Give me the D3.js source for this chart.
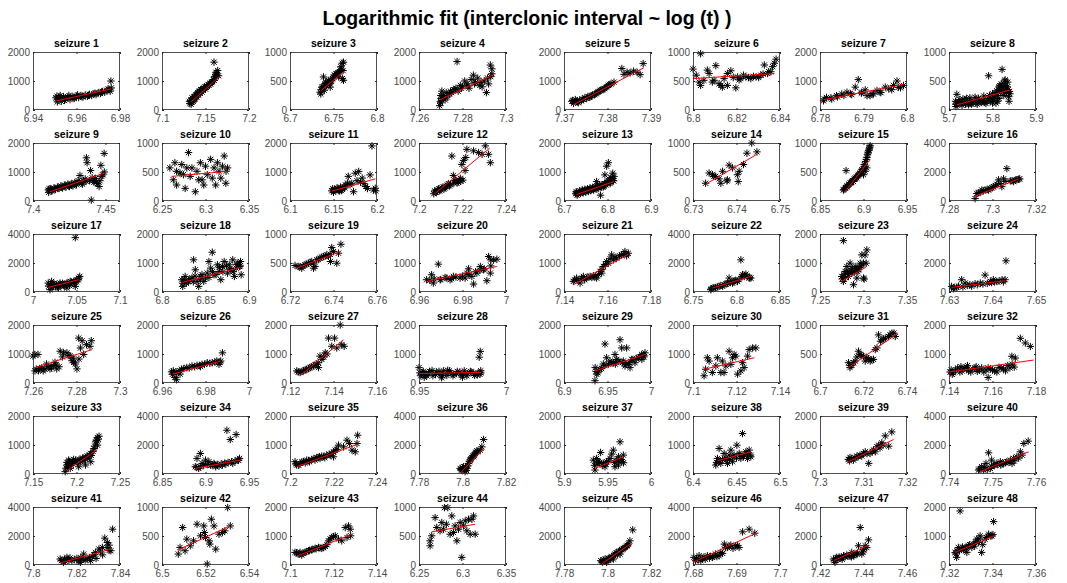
<!DOCTYPE html>
<html><head><meta charset="utf-8">
<script src="https://cdn.jsdelivr.net/npm/d3@7"></script>
<style>body{margin:0;background:#fff}svg{display:block}</style>
</head><body>
<svg id="c" width="1067" height="583"></svg>
<script>
const mainTitle = "Logarithmic fit (interclonic interval ~ log (t) )";
const panelTitles = d3.range(1, 49).map(i => "seizure " + i);
const xTicks = [
 [6.94,6.96,6.98],[7.1,7.15,7.2],[6.7,6.75,6.8],[7.26,7.28,7.3],[7.37,7.38,7.39],[6.8,6.82,6.84],[6.78,6.79,6.8],[5.7,5.8,5.9],
 [7.4,7.45],[6.25,6.3,6.35],[6.1,6.15,6.2],[7.2,7.22,7.24],[6.7,6.8,6.9],[6.73,6.74,6.75],[6.85,6.9,6.95],[7.28,7.3,7.32],
 [7,7.05,7.1],[6.8,6.85,6.9],[6.72,6.74,6.76],[6.96,6.98,7],[7.14,7.16,7.18],[6.75,6.8,6.85],[7.25,7.3,7.35],[7.63,7.64,7.65],
 [7.26,7.28,7.3],[6.96,6.98,7],[7.12,7.14,7.16],[6.95,7],[6.9,6.95,7],[7.1,7.12,7.14],[6.7,6.72,6.74],[7.14,7.16,7.18],
 [7.15,7.2,7.25],[6.85,6.9,6.95],[7.2,7.22,7.24],[7.78,7.8,7.82],[5.9,5.95,6],[6.4,6.45,6.5],[7.3,7.31,7.32],[7.74,7.75,7.76],
 [7.8,7.82,7.84],[6.5,6.52,6.54],[7.1,7.12,7.14],[6.25,6.3,6.35],[7.78,7.8,7.82],[7.68,7.69,7.7],[7.42,7.44,7.46],[7.32,7.34,7.36]
];
// x-axis limits: from the first to the last tick, except where the axis runs past the last labelled tick
const xLimitOverride = { 9: [7.4, 7.46] };
const yMax = [
 2000,2000,1000,2000,2000,1000,2000,1000,
 2000,1000,2000,2000,2000,1000,1000,4000,
 4000,2000,1000,2000,2000,4000,2000,4000,
 2000,2000,2000,2000,2000,2000,1000,2000,
 2000,4000,2000,4000,2000,2000,2000,4000,
 4000,1000,2000,1000,4000,4000,4000,2000
];
const fits = [
 [6.951,318,6.976,729],[7.1336,282,7.1656,1141],[6.7358,335,6.7615,659],[7.2697,353,7.2943,1224],
 [7.3721,176,7.3884,1459],[6.8,541,6.8374,629],[6.7808,353,6.7992,882],[5.7177,88,5.8408,347],
 [7.41164,318,7.44944,965],[6.2609,424,6.3254,512],[6.1481,341,6.1981,765],[7.2074,259,7.2325,1824],
 [6.7291,224,6.8149,671],[6.7329,288,6.7447,806],[6.8781,147,6.9077,718],[7.2912,282,7.312,1529],
 [7.0175,320,7.0525,846],[6.8238,331,6.8902,846],[6.7231,411,6.7431,697],[6.9635,366,6.9958,880],
 [7.1443,251,7.1696,1303],[6.7723,274,6.8165,1074],[7.275,366,7.3038,880],[7.6306,320,7.6429,777],
 [7.26,508,7.2872,1153],[6.9648,305,6.987,757],[7.1246,249,7.1446,1492],[6.95,328,6.9858,362],
 [6.9356,418,6.9931,983],[7.1051,475,7.1282,870],[6.7131,266,6.7354,847],[7.1405,384,7.1789,791],
 [7.1889,114,7.2239,846],[6.8883,389,6.9402,960],[7.2031,251,7.2311,1029],[7.7992,91,7.8097,1760],
 [5.9356,194,5.9682,594],[6.4281,457,6.4665,766],[7.3065,423,7.3169,1189],[7.7472,160,7.7583,1531],
 [7.8125,137,7.8358,1097],[6.5075,263,6.5314,674],[7.1038,320,7.1285,1063],[6.2646,571,6.3146,703],
 [7.7973,69,7.8111,1509],[7.68,183,7.6945,2194],[7.4262,297,7.4423,1371],[7.3228,434,7.3405,1006]
];
const s1=[[6.951,480],[6.9515,350],[6.952,420],[6.953,300],[6.954,460],[6.955,380],[6.956,440],[6.957,360],[6.958,470],[6.959,400],[6.960,480],[6.961,430],[6.962,500],[6.963,450],[6.964,520],[6.965,470],[6.966,540],[6.967,500],[6.968,560],[6.969,530],[6.970,600],[6.971,570],[6.972,640],[6.973,610],[6.974,680],[6.975,700],[6.976,760],[6.9758,1000],[6.9505,420],[6.9512,280],[6.9525,500],[6.9535,380],[6.9545,330],[6.9565,500],[6.9585,420],[6.9605,520],[6.9625,460],[6.9655,510],[6.9685,580],[6.9715,620],[6.9745,720],[6.9755,650]];
const s2=[[7.132,220],[7.133,330],[7.134,260],[7.135,400],[7.136,300],[7.137,460],[7.138,380],[7.139,520],[7.140,440],[7.141,600],[7.142,520],[7.143,660],[7.144,580],[7.145,700],[7.146,620],[7.148,760],[7.150,720],[7.152,820],[7.154,860],[7.156,900],[7.158,980],[7.160,1020],[7.161,1100],[7.162,1300],[7.163,1200],[7.164,1360],[7.165,1180],[7.1598,1650],[7.1315,300],[7.1335,200],[7.1345,420],[7.1365,350],[7.1385,480],[7.1405,560],[7.1425,620],[7.1445,700],[7.147,700],[7.149,800],[7.151,780],[7.153,880],[7.155,920],[7.157,950],[7.159,1050],[7.1605,1150],[7.1625,1250]];
const s3=[[6.7346,306],[6.7354,276],[6.7365,394],[6.7375,365],[6.7385,570],[6.7404,453],[6.742,424],[6.744,512],[6.746,453],[6.7462,394],[6.748,512],[6.750,570],[6.752,600],[6.754,629],[6.756,570],[6.758,688],[6.7585,747],[6.760,806],[6.7615,824],[6.7602,541],[6.7615,512],[6.7395,340],[6.7435,470],[6.736,350],[6.738,400],[6.740,420],[6.741,480],[6.743,450],[6.745,480],[6.747,500],[6.749,540],[6.751,600],[6.753,620],[6.755,640],[6.757,660],[6.759,700],[6.761,680]];
const s4=[[7.2695,150],[7.2698,300],[7.270,500],[7.2705,650],[7.271,400],[7.272,350],[7.273,450],[7.274,550],[7.275,600],[7.276,700],[7.277,750],[7.278,650],[7.279,850],[7.280,800],[7.281,1000],[7.282,900],[7.283,750],[7.284,1050],[7.285,1200],[7.286,950],[7.287,1100],[7.288,850],[7.289,800],[7.290,1000],[7.291,600],[7.292,900],[7.293,1150],[7.2928,1550],[7.2935,1420],[7.2775,1670],[7.2700,250],[7.2702,400],[7.2712,500],[7.2725,600],[7.2745,650],[7.2765,700],[7.2795,750],[7.2825,850],[7.2855,900],[7.2885,950],[7.2915,1100],[7.2935,1250]];
const s5=[[7.3718,300],[7.3722,230],[7.3726,360],[7.3731,280],[7.3736,340],[7.3742,380],[7.3748,420],[7.3755,470],[7.376,450],[7.3766,520],[7.3772,560],[7.3778,620],[7.3784,680],[7.379,700],[7.3796,780],[7.3802,850],[7.3808,900],[7.3815,960],[7.3833,1430],[7.3838,1230],[7.3845,1300],[7.3852,1280],[7.386,1340],[7.3868,1300],[7.3875,1220],[7.3882,1600],[7.3720,330],[7.3728,300],[7.3733,250],[7.3740,320],[7.3745,360],[7.3752,400],[7.3758,440],[7.3763,490],[7.3770,530],[7.3775,580],[7.3781,640],[7.3787,700],[7.3793,740],[7.3799,800],[7.3805,880]];
const s6=[[6.800,706],[6.8035,970],[6.8015,600],[6.8028,482],[6.8035,424],[6.805,512],[6.8066,688],[6.8074,630],[6.8089,482],[6.8105,765],[6.812,453],[6.8128,424],[6.8135,394],[6.8143,541],[6.8158,630],[6.8174,676],[6.8197,382],[6.8205,570],[6.822,541],[6.8243,570],[6.8266,541],[6.829,570],[6.8312,600],[6.8328,776],[6.8343,630],[6.8358,659],[6.8374,806],[6.8382,876],[6.8366,747],[6.8097,512],[6.8158,424],[6.8185,560],[6.8212,520],[6.8232,600],[6.8255,560],[6.8278,580],[6.8302,560],[6.8322,620],[6.8348,660]];
const s7=[[6.7808,318],[6.7815,435],[6.7827,376],[6.7838,494],[6.785,553],[6.7862,612],[6.7873,530],[6.7881,788],[6.7888,1047],[6.7896,612],[6.7904,694],[6.7908,494],[6.7915,494],[6.7923,553],[6.7931,670],[6.7938,612],[6.795,788],[6.7958,729],[6.7969,847],[6.7977,1000],[6.7992,847],[6.7985,765],[6.781,380],[6.7825,420],[6.784,450],[6.7855,500],[6.787,560],[6.7895,580],[6.792,560],[6.794,600],[6.7965,700],[6.798,780]];
const s8=[[5.715,150],[5.716,60],[5.718,270],[5.72,100],[5.725,180],[5.73,80],[5.735,130],[5.74,200],[5.745,90],[5.75,160],[5.755,120],[5.76,220],[5.765,100],[5.77,170],[5.775,130],[5.78,240],[5.785,110],[5.79,200],[5.791,590],[5.795,150],[5.80,280],[5.805,220],[5.81,330],[5.812,150],[5.815,400],[5.818,300],[5.82,450],[5.822,700],[5.825,380],[5.828,500],[5.83,420],[5.832,300],[5.835,480],[5.837,230],[5.84,280],[5.838,150],[5.826,250],[5.815,200],[5.808,120],[5.80,120],[5.7155,100],[5.722,150],[5.728,120],[5.732,190],[5.738,100],[5.742,140],[5.748,210],[5.752,100],[5.758,150],[5.762,120],[5.768,200],[5.772,140],[5.778,170],[5.782,130],[5.788,160],[5.793,250],[5.797,200],[5.802,170],[5.806,300],[5.811,250],[5.814,350],[5.817,420],[5.821,330],[5.824,420],[5.827,300],[5.829,520],[5.831,360],[5.834,400],[5.836,350],[5.839,320]];
const s9=[[7.41056,380],[7.4108,300],[7.412,420],[7.4132,350],[7.4144,450],[7.4156,400],[7.4168,480],[7.418,430],[7.4192,520],[7.4204,450],[7.4216,550],[7.4228,480],[7.424,580],[7.4252,500],[7.4264,600],[7.4276,520],[7.4288,640],[7.43,560],[7.4312,700],[7.4324,880],[7.4336,620],[7.4348,700],[7.436,760],[7.43684,1490],[7.43732,1320],[7.43972,1050],[7.4402,30],[7.4408,800],[7.442,650],[7.4432,780],[7.4444,600],[7.4456,500],[7.4468,1230],[7.448,900],[7.44908,1640],[7.4492,1000],[7.4474,850],[7.41116,420],[7.4126,350],[7.415,420],[7.4174,450],[7.4198,480],[7.4222,520],[7.4246,540],[7.427,560],[7.4294,600],[7.4318,640],[7.4342,580],[7.4366,680],[7.439,700],[7.4414,700],[7.4438,650],[7.4462,700]];
const s10=[[6.259,571],[6.263,365],[6.2648,659],[6.2668,276],[6.2707,482],[6.2727,629],[6.2746,453],[6.2766,218],[6.2805,835],[6.2824,424],[6.2844,571],[6.2883,159],[6.2902,512],[6.2922,365],[6.2941,659],[6.298,276],[6.3,600],[6.302,453],[6.3059,718],[6.3078,394],[6.3098,571],[6.3117,276],[6.3137,659],[6.3156,512],[6.3176,394],[6.3195,600],[6.3215,776],[6.3234,306],[6.3254,571],[6.3236,512],[6.2668,512],[6.2785,571],[6.2961,365]];
const s11=[[6.148,350],[6.149,420],[6.150,300],[6.152,380],[6.154,450],[6.156,360],[6.158,480],[6.160,400],[6.162,500],[6.164,550],[6.166,620],[6.167,850],[6.169,560],[6.171,610],[6.173,320],[6.175,960],[6.177,700],[6.179,1020],[6.181,650],[6.183,790],[6.185,600],[6.187,500],[6.189,430],[6.192,900],[6.1942,1900],[6.196,380],[6.198,440],[6.1985,350],[6.151,400],[6.155,420],[6.159,360],[6.163,450],[6.157,350]];
const s12=[[7.2068,250],[7.2072,350],[7.208,300],[7.209,420],[7.210,380],[7.211,480],[7.212,450],[7.213,550],[7.214,520],[7.2151,1550],[7.2158,880],[7.216,620],[7.217,700],[7.218,650],[7.219,780],[7.2197,1260],[7.2205,1400],[7.2202,720],[7.2212,1050],[7.222,1780],[7.2251,1730],[7.2274,1670],[7.229,1610],[7.2305,1900],[7.232,1610],[7.2328,1320],[7.2215,1500],[7.2075,300],[7.2085,380],[7.2095,350],[7.2105,450],[7.2115,420],[7.2125,500],[7.2135,600],[7.2145,560],[7.2165,700],[7.2175,620],[7.2185,720],[7.2192,680]];
const s13=[[6.727,250],[6.728,320],[6.730,200],[6.733,280],[6.736,350],[6.739,300],[6.742,380],[6.745,330],[6.748,400],[6.751,360],[6.754,420],[6.757,380],[6.760,450],[6.763,400],[6.766,470],[6.769,430],[6.772,500],[6.775,670],[6.778,450],[6.781,520],[6.784,200],[6.787,560],[6.790,480],[6.793,600],[6.794,900],[6.796,550],[6.798,1200],[6.802,1320],[6.800,650],[6.804,750],[6.806,600],[6.808,800],[6.810,730],[6.812,960],[6.813,700],[6.815,850],[6.729,280],[6.732,240],[6.735,300],[6.738,260],[6.741,330],[6.744,280],[6.747,350],[6.750,310],[6.753,380],[6.756,330],[6.759,400],[6.762,360],[6.765,420],[6.768,380],[6.771,440],[6.774,420],[6.777,500],[6.780,460],[6.783,520],[6.786,480],[6.789,540],[6.792,520],[6.795,600],[6.799,620],[6.803,700],[6.807,650],[6.811,780],[6.814,700]];
const s14=[[6.7329,306],[6.7337,482],[6.7345,453],[6.7352,424],[6.736,382],[6.7364,306],[6.7368,512],[6.7378,347],[6.7383,618],[6.7391,571],[6.7402,453],[6.7404,335],[6.7406,512],[6.7416,629],[6.7424,824],[6.7435,1000],[6.7447,847],[6.7379,365],[6.7348,424]];
const s15=[[6.88,524],[6.8769,188],[6.8788,218],[6.8827,276],[6.8865,335],[6.8904,394],[6.8942,453],[6.8981,541],[6.9008,629],[6.9031,718],[6.9046,806],[6.9058,865],[6.9077,953],[6.9069,912],[6.9038,571],[6.9019,512],[6.900,453],[6.8808,240],[6.8846,310],[6.8885,335],[6.8923,394],[6.8962,480],[6.8775,200],[6.8795,230],[6.881,260],[6.8835,290],[6.8855,320],[6.8875,350],[6.8895,380],[6.8915,410],[6.8935,440],[6.8955,470],[6.8975,510],[6.8995,560],[6.9015,600],[6.9025,680],[6.904,750],[6.9052,830],[6.9063,880],[6.9072,930]];
const s16=[[7.292,165],[7.2928,518],[7.2943,588],[7.2966,753],[7.2989,871],[7.3005,988],[7.302,1153],[7.3028,1459],[7.3051,1529],[7.3066,2235],[7.3082,1388],[7.3097,1341],[7.3112,1459],[7.3125,1529],[7.3043,988],[7.2982,753],[7.2951,753],[7.2935,560],[7.2958,700],[7.2975,800],[7.2998,900],[7.3013,1050],[7.3035,1200],[7.3058,1350],[7.309,1400],[7.3105,1450],[7.312,1500]];
const s17=[[7.0175,617],[7.0195,160],[7.0233,389],[7.0272,503],[7.0311,617],[7.035,503],[7.0389,617],[7.0428,731],[7.0467,731],[7.0486,389],[7.0506,846],[7.0537,1074],[7.0525,960],[7.0486,3749],[7.0214,731],[7.0292,274],[7.0389,274],[7.018,400],[7.020,500],[7.022,300],[7.024,600],[7.026,400],[7.028,350],[7.030,500],[7.032,420],[7.034,600],[7.036,400],[7.038,500],[7.040,600],[7.042,450],[7.044,700],[7.046,600],[7.048,700],[7.050,700],[7.052,850]];
const s18=[[6.8227,423],[6.8238,194],[6.8266,537],[6.8305,366],[6.8344,480],[6.8363,1109],[6.8383,766],[6.8402,366],[6.8441,537],[6.848,366],[6.852,651],[6.8539,1051],[6.8559,823],[6.8578,1371],[6.8598,594],[6.8637,937],[6.8656,709],[6.8676,423],[6.8695,880],[6.8715,1051],[6.8754,651],[6.8773,937],[6.8793,766],[6.8813,1109],[6.8832,537],[6.8852,823],[6.8871,994],[6.8891,880],[6.891,594],[6.8902,1051],[6.8422,194],[6.85,480],[6.824,300],[6.826,420],[6.828,300],[6.832,450],[6.836,350],[6.838,550],[6.844,420],[6.846,600],[6.854,500],[6.858,700],[6.862,600],[6.866,850],[6.870,700],[6.874,900],[6.878,800],[6.882,700],[6.886,950],[6.890,900]];
const s19=[[6.7223,457],[6.7238,440],[6.7254,411],[6.7269,469],[6.7285,497],[6.73,526],[6.7315,440],[6.7323,554],[6.7338,583],[6.7354,611],[6.7369,640],[6.7385,651],[6.7392,766],[6.74,697],[6.7386,526],[6.7415,497],[6.7423,669],[6.7434,823],[6.7308,411],[6.7245,430],[6.726,450],[6.7277,480],[6.7293,510],[6.7307,500],[6.733,560],[6.7346,600],[6.7362,620],[6.7377,620]];
const s20=[[6.9635,423],[6.9658,594],[6.9666,309],[6.9689,960],[6.9697,423],[6.9728,480],[6.9758,537],[6.9789,480],[6.982,651],[6.9828,800],[6.9843,537],[6.9851,274],[6.9866,651],[6.9882,880],[6.9897,766],[6.9912,389],[6.992,1223],[6.9928,651],[6.9943,1109],[6.9958,1131],[6.9930,1109],[6.9743,423],[6.9812,480],[6.965,400],[6.967,450],[6.970,430],[6.972,500],[6.975,460],[6.977,520],[6.980,550],[6.983,600],[6.986,700],[6.988,750],[6.990,800],[6.993,900]];
const s21=[[7.1443,366],[7.1458,480],[7.1474,309],[7.1489,537],[7.1504,480],[7.152,537],[7.1535,560],[7.155,480],[7.1566,709],[7.1581,880],[7.1596,1051],[7.1619,1280],[7.1627,1109],[7.1642,1166],[7.1665,1280],[7.168,1394],[7.1696,1337],[7.1573,651],[7.1604,994],[7.1448,420],[7.1465,400],[7.148,460],[7.1495,420],[7.151,520],[7.1528,500],[7.1542,520],[7.1558,600],[7.1574,780],[7.159,950],[7.1612,1150],[7.1635,1200],[7.1655,1250],[7.1672,1300],[7.1688,1250]];
const s22=[[6.7704,160],[6.7742,274],[6.78,389],[6.7858,503],[6.7915,960],[6.7954,617],[6.8012,731],[6.805,2217],[6.8069,1189],[6.8108,1234],[6.8146,960],[6.8165,960],[6.8088,1074],[6.7896,617],[6.7973,777],[6.771,220],[6.773,300],[6.776,300],[6.778,350],[6.782,450],[6.784,400],[6.788,550],[6.790,600],[6.793,650],[6.797,700],[6.799,800],[6.803,850],[6.806,1050],[6.809,1150],[6.812,1100],[6.815,1000]];
const s23=[[7.2769,1771],[7.275,537],[7.2769,366],[7.2788,709],[7.2808,880],[7.2827,537],[7.2846,994],[7.2865,651],[7.2885,251],[7.2904,880],[7.2923,480],[7.2942,766],[7.2962,994],[7.2981,1280],[7.300,480],[7.3008,446],[7.3019,1280],[7.3038,1451],[7.3031,994],[7.2810,709],[7.2867,823],[7.2755,450],[7.2775,600],[7.2795,500],[7.2815,650],[7.2835,700],[7.2855,750],[7.2875,700],[7.2895,700],[7.2915,800],[7.2935,700],[7.2955,850],[7.2975,900],[7.3,1000]];
const s24=[[7.6306,389],[7.6318,320],[7.6329,846],[7.6337,617],[7.6348,503],[7.636,571],[7.6372,617],[7.6383,1166],[7.6395,731],[7.6402,846],[7.641,731],[7.6422,846],[7.6429,846],[7.6431,2149],[7.631,217],[7.6312,300],[7.6322,400],[7.6332,350],[7.6342,450],[7.6352,400],[7.6365,500],[7.6378,550],[7.6388,600],[7.6398,650],[7.6405,700],[7.6415,750],[7.6425,700]];
const s25=[[7.26,927],[7.2608,983],[7.2623,983],[7.2609,418],[7.2631,497],[7.2647,418],[7.2662,655],[7.2678,486],[7.2693,599],[7.2701,712],[7.2709,486],[7.2725,1096],[7.274,1040],[7.2756,1040],[7.2771,927],[7.2787,712],[7.2802,486],[7.281,1548],[7.2826,1458],[7.2818,1209],[7.2833,983],[7.2846,1322],[7.2862,1266],[7.2868,1458],[7.2795,655],[7.2779,768],[7.2811,825],[7.2615,480],[7.2625,420],[7.2640,520],[7.2655,480],[7.2670,560],[7.2685,520],[7.2705,620],[7.272,560],[7.2735,900],[7.2765,950],[7.2785,860]];
const s26=[[6.9644,384],[6.9652,418],[6.9659,192],[6.9667,113],[6.9675,362],[6.969,475],[6.9714,531],[6.9738,588],[6.9761,610],[6.9784,644],[6.9808,700],[6.9831,700],[6.9852,757],[6.987,757],[6.9878,1040],[6.9862,644],[6.9683,305],[6.9777,565],[6.9648,300],[6.9665,380],[6.9682,420],[6.970,500],[6.9725,520],[6.975,560],[6.9772,600],[6.9795,640],[6.982,680],[6.9843,720],[6.9866,720]];
const s27=[[7.1231,418],[7.1246,362],[7.1262,418],[7.1277,475],[7.1292,531],[7.1308,588],[7.1323,644],[7.1338,927],[7.1346,813],[7.1362,1040],[7.1377,1548],[7.1392,1266],[7.1405,1548],[7.1431,2000],[7.1438,1322],[7.1449,1266],[7.1415,1209],[7.1331,531],[7.1238,380],[7.1255,400],[7.127,450],[7.1285,500],[7.13,560],[7.1315,620],[7.133,700],[7.1355,900],[7.137,1000]];
const s28=[[6.950,530],[6.951,250],[6.952,350],[6.954,300],[6.956,400],[6.958,250],[6.960,380],[6.962,300],[6.964,420],[6.966,260],[6.968,360],[6.970,300],[6.972,400],[6.974,280],[6.976,420],[6.978,320],[6.980,380],[6.982,260],[6.984,350],[6.9846,890],[6.9852,1090],[6.985,300],[6.9855,420],[6.953,200],[6.963,180],[6.975,200],[6.9665,440],[6.9575,430],[6.9505,350],[6.9515,300],[6.9525,400],[6.9545,250],[6.9555,350],[6.9595,300],[6.9615,400],[6.9635,250],[6.9655,330],[6.9675,420],[6.9695,250],[6.9715,330],[6.9735,380],[6.9755,300],[6.9775,250],[6.9795,400],[6.9815,330],[6.9835,280],[6.9855,350]];
const s29=[[6.9356,79],[6.9358,531],[6.9375,305],[6.9414,475],[6.9452,655],[6.9471,1345],[6.949,870],[6.9529,757],[6.9567,700],[6.9605,813],[6.9644,1492],[6.9663,1209],[6.9682,757],[6.9701,588],[6.972,1209],[6.974,644],[6.9759,531],[6.9778,813],[6.9816,700],[6.9854,870],[6.9893,983],[6.9931,1040],[6.9895,813],[6.9586,983],[6.937,400],[6.939,350],[6.943,500],[6.947,600],[6.951,650],[6.955,700],[6.959,650],[6.963,750],[6.967,700],[6.971,650],[6.975,700],[6.979,800],[6.983,850],[6.987,900],[6.991,950],[6.992,900]];
const s30=[[7.1051,249],[7.1058,475],[7.1066,870],[7.1074,757],[7.1089,362],[7.1105,588],[7.1112,870],[7.1128,362],[7.1135,757],[7.1151,588],[7.1166,1096],[7.1174,644],[7.1182,870],[7.1197,927],[7.1205,305],[7.122,418],[7.1228,700],[7.1235,531],[7.1251,927],[7.1258,1153],[7.1274,1209],[7.1289,1209],[7.1143,362],[7.1189,983]];
const s31=[[6.7131,350],[6.7146,305],[6.7162,379],[6.7177,548],[6.7185,492],[6.72,463],[6.7208,379],[6.7215,435],[6.7231,379],[6.7246,407],[6.7254,576],[6.7269,830],[6.7285,746],[6.73,774],[6.7315,802],[6.7331,859],[6.7346,802],[6.7262,605],[6.7138,266],[6.7138,300],[6.7155,350],[6.717,450],[6.7192,470],[6.7222,420],[6.7238,400],[6.7278,720],[6.7292,760],[6.7322,830],[6.734,860]];
const s32=[[7.1405,380],[7.1415,300],[7.143,450],[7.145,380],[7.147,520],[7.149,420],[7.151,480],[7.153,400],[7.155,520],[7.157,450],[7.158,190],[7.159,480],[7.161,420],[7.163,540],[7.165,480],[7.167,600],[7.1689,920],[7.170,550],[7.1705,860],[7.1728,1540],[7.1751,1380],[7.1774,1260],[7.1455,560],[7.1525,560],[7.1485,600],[7.1410,450],[7.142,350],[7.144,520],[7.146,420],[7.148,480],[7.150,380],[7.152,520],[7.154,450],[7.156,380],[7.158,520],[7.160,450],[7.162,380],[7.164,520],[7.166,420],[7.168,520],[7.169,650]];
const s33=[[7.187,80],[7.1889,309],[7.1909,480],[7.1928,194],[7.1947,366],[7.1967,503],[7.2006,423],[7.2045,480],[7.2084,537],[7.2123,617],[7.2162,709],[7.22,880],[7.222,1109],[7.2239,1257],[7.2259,1303],[7.2241,994],[7.2025,251],[7.2103,309],[7.2164,423],[7.188,200],[7.189,400],[7.190,250],[7.191,350],[7.192,430],[7.194,300],[7.195,440],[7.197,400],[7.199,480],[7.201,380],[7.203,500],[7.205,420],[7.207,550],[7.209,480],[7.211,580],[7.213,560],[7.215,650],[7.217,640],[7.219,780],[7.221,960],[7.223,1150],[7.225,1200]];
const s34=[[6.8883,503],[6.8902,1074],[6.8941,1417],[6.8961,731],[6.9,960],[6.9039,846],[6.9078,617],[6.9117,503],[6.9156,549],[6.9195,617],[6.9234,686],[6.9246,3017],[6.9285,2377],[6.9352,2720],[6.9371,960],[6.9391,1074],[6.9313,731],[6.8922,389],[6.9098,731],[6.890,450],[6.894,500],[6.898,600],[6.902,650],[6.906,600],[6.910,650],[6.914,650],[6.918,700],[6.922,750],[6.926,800],[6.930,850],[6.934,900],[6.938,950]];
const s35=[[7.2023,423],[7.2031,309],[7.2046,366],[7.2062,423],[7.2077,480],[7.21,503],[7.2123,571],[7.2146,617],[7.2169,651],[7.2192,709],[7.2208,823],[7.2223,994],[7.2246,937],[7.2262,1166],[7.2274,1051],[7.2285,823],[7.2300,766],[7.2311,1337],[7.2308,1051],[7.2138,537],[7.22,594],[7.2027,350],[7.204,300],[7.2055,420],[7.207,380],[7.2085,460],[7.209,420],[7.211,530],[7.2115,480],[7.213,560],[7.2135,600],[7.2155,600],[7.216,560],[7.218,680],[7.2185,640],[7.220,760],[7.2215,850]];
const s36=[[7.7989,389],[7.7997,274],[7.8005,503],[7.8012,160],[7.802,389],[7.8028,731],[7.8035,960],[7.8043,1143],[7.8058,1417],[7.8069,1531],[7.8082,1646],[7.8089,1874],[7.8097,2377],[7.8051,1189],[7.8066,1600],[7.7993,300],[7.8000,420],[7.8008,300],[7.8015,450],[7.8018,250],[7.8024,550],[7.8032,850],[7.8039,1050],[7.8047,1250],[7.8054,1300],[7.8062,1500]];
const s37=[[5.9337,480],[5.9356,137],[5.9375,537],[5.9395,423],[5.9421,743],[5.9452,366],[5.949,423],[5.9529,537],[5.9548,686],[5.9567,823],[5.9586,251],[5.9605,480],[5.9625,309],[5.9644,1109],[5.9663,423],[5.9682,651],[5.9684,389],[5.9471,251],[5.9627,594],[5.935,300],[5.938,350],[5.941,400],[5.944,300],[5.948,350],[5.951,450],[5.958,400],[5.962,450],[5.966,500]];
const s38=[[6.4262,309],[6.4281,537],[6.43,880],[6.4319,366],[6.4358,709],[6.4377,480],[6.4415,651],[6.4435,823],[6.4454,423],[6.4504,994],[6.4531,709],[6.4569,1394],[6.4588,651],[6.4608,766],[6.4627,537],[6.4646,823],[6.4665,594],[6.455,537],[6.4396,366],[6.4473,651],[6.427,400],[6.430,450],[6.434,500],[6.438,550],[6.442,500],[6.446,600],[6.450,550],[6.454,650],[6.458,600],[6.462,700],[6.466,650]];
const s39=[[7.3065,503],[7.3069,571],[7.3077,480],[7.3085,617],[7.3092,651],[7.31,709],[7.3104,766],[7.3112,366],[7.3115,709],[7.3123,823],[7.3131,937],[7.3135,994],[7.3142,1074],[7.315,1314],[7.3158,960],[7.3165,1451],[7.3127,766],[7.3073,537],[7.3068,450],[7.308,550],[7.3088,600],[7.3096,620],[7.3108,700],[7.312,780],[7.3138,900],[7.3145,1000]];
const s40=[[7.7468,274],[7.7475,503],[7.7479,274],[7.7485,731],[7.7491,1463],[7.7495,389],[7.7502,617],[7.751,731],[7.7518,846],[7.7525,731],[7.7533,846],[7.7541,960],[7.7548,1074],[7.7556,1189],[7.7564,1531],[7.7572,2103],[7.7582,2263],[7.7498,960],[7.7519,617],[7.7545,731],[7.747,350],[7.7482,450],[7.7488,300],[7.7498,500],[7.7505,600],[7.7512,650],[7.7522,700],[7.753,780],[7.7538,800],[7.755,900],[7.756,1100],[7.7568,1300]];
const s41=[[7.8125,411],[7.814,183],[7.8156,526],[7.8179,297],[7.8202,457],[7.8226,411],[7.8233,754],[7.8249,411],[7.8272,594],[7.8288,869],[7.8303,1097],[7.8319,1211],[7.833,1851],[7.8342,1554],[7.835,1371],[7.8366,2469],[7.8358,983],[7.8218,183],[7.8265,297],[7.813,300],[7.8145,400],[7.815,250],[7.8165,350],[7.817,480],[7.819,380],[7.821,300],[7.822,500],[7.824,350],[7.826,500],[7.828,700],[7.829,450],[7.831,900],[7.832,700],[7.834,1200],[7.835,1000]];
const s42=[[6.5075,189],[6.5083,303],[6.5095,646],[6.5106,246],[6.5114,446],[6.513,331],[6.5145,417],[6.5161,703],[6.5177,503],[6.5192,674],[6.5195,560],[6.5208,17],[6.5216,417],[6.522,360],[6.5227,789],[6.5239,674],[6.5247,274],[6.5262,531],[6.5278,560],[6.5289,589],[6.5302,989],[6.5314,674],[6.52,474]];
const s43=[[7.1023,434],[7.1038,377],[7.1054,343],[7.1069,434],[7.1085,491],[7.11,526],[7.1115,571],[7.1131,606],[7.1146,571],[7.1162,640],[7.1177,834],[7.1192,949],[7.1208,1006],[7.1223,891],[7.1238,834],[7.1254,1291],[7.1269,1349],[7.1277,1234],[7.1262,949],[7.1279,1006],[7.1046,434],[7.103,420],[7.1045,380],[7.106,400],[7.1075,460],[7.109,500],[7.1105,540],[7.112,560],[7.1138,590],[7.1153,600],[7.117,700],[7.1185,900],[7.12,980]];
const s44=[[6.2627,417],[6.2646,503],[6.2685,817],[6.2704,646],[6.2742,589],[6.2762,731],[6.2792,989],[6.2831,989],[6.2815,703],[6.2858,531],[6.2877,846],[6.2896,560],[6.2915,674],[6.2935,417],[6.2954,617],[6.2973,731],[6.2992,131],[6.3012,674],[6.3031,760],[6.305,589],[6.3069,789],[6.3088,531],[6.3108,789],[6.3127,846],[6.3146,531],[6.2628,331],[6.2781,617]];
const s45=[[7.7969,297],[7.7978,183],[7.7989,411],[7.8004,457],[7.802,594],[7.8034,754],[7.805,914],[7.8065,1051],[7.8081,1211],[7.8096,1440],[7.8103,1669],[7.8116,2423],[7.7996,183],[7.8027,411],[7.8058,754],[7.7975,250],[7.7983,350],[7.7995,300],[7.801,480],[7.8015,380],[7.8028,650],[7.804,850],[7.8045,700],[7.8055,960],[7.807,1100],[7.8075,1150],[7.8088,1300],[7.8092,1350]];
const s46=[[7.6802,526],[7.6806,297],[7.6814,640],[7.6822,457],[7.6833,640],[7.6845,526],[7.6852,754],[7.6864,869],[7.6872,1440],[7.6879,1211],[7.6887,1371],[7.6898,1326],[7.6906,1211],[7.6914,2286],[7.6929,2469],[7.6942,2194],[7.6818,297],[7.686,640],[7.6808,450],[7.6812,380],[7.6825,550],[7.6828,400],[7.6838,480],[7.684,600],[7.6848,620],[7.6855,580],[7.6868,800],[7.6875,1200],[7.6883,1300],[7.6892,1150],[7.6902,1350]];
const s47=[[7.4262,411],[7.4277,526],[7.4292,457],[7.4308,640],[7.4323,686],[7.4338,594],[7.4354,640],[7.4369,754],[7.4377,1326],[7.4385,2583],[7.44,1051],[7.4408,1326],[7.4423,1737],[7.4392,754],[7.4269,183],[7.4346,869],[7.4266,300],[7.4272,450],[7.4282,380],[7.4288,550],[7.4298,520],[7.4302,400],[7.4315,560],[7.4328,620],[7.4345,560],[7.436,700],[7.4372,820],[7.4398,900],[7.4415,1200]];
const s48=[[7.3228,434],[7.3235,263],[7.3243,606],[7.3251,1863],[7.3258,549],[7.3274,606],[7.3289,663],[7.3305,606],[7.3312,720],[7.3328,891],[7.3335,777],[7.3343,1006],[7.335,434],[7.3366,891],[7.3382,1063],[7.3397,1006],[7.3405,1497],[7.3237,491],[7.3282,434],[7.3232,380],[7.3248,500],[7.3262,620],[7.3268,520],[7.328,560],[7.3295,700],[7.3318,650],[7.3322,800],[7.3338,900],[7.3355,700],[7.3372,950],[7.339,1000],[7.3402,1050]];
const scatter=[s1,s2,s3,s4,s5,s6,s7,s8,s9,s10,s11,s12,s13,s14,s15,s16,s17,s18,s19,s20,s21,s22,s23,s24,s25,s26,s27,s28,s29,s30,s31,s32,s33,s34,s35,s36,s37,s38,s39,s40,s41,s42,s43,s44,s45,s46,s47,s48];

const svg = d3.select("#c");
const FONT = "'Liberation Sans', Arial, Helvetica, sans-serif";
const colLeft = [33, 162, 290, 419, 564, 693, 820, 949];
const pw = 87, top0 = 52, rowStep = 91, ph = 58;
const axisColor = "#262626", labelColor = "#4a4a4a";
const starPath = r => { const a = r * 0.7071; return `M${-r},0H${r}M0,${-r}V${r}M${-a},${-a}L${a},${a}M${-a},${a}L${a},${-a}`; };
const fmt = d3.format("~g");

svg.append("text").attr("x", 527).attr("y", 25).attr("text-anchor", "middle")
  .attr("font-family", FONT).attr("font-weight", "bold").attr("font-size", 19.5).attr("fill", "#000").text(mainTitle);

scatter.forEach((pts, i) => {
  const r = Math.floor(i / 8), c = i % 8;
  const g = svg.append("g").attr("transform", `translate(${colLeft[c]},${top0 + r * rowStep})`);
  const xt = xTicks[i];
  const xDom = xLimitOverride[i + 1] || [xt[0], xt[xt.length - 1]];
  const x = d3.scaleLinear().domain(xDom).range([0, pw]);
  const y = d3.scaleLinear().domain([0, yMax[i]]).range([ph, 0]);
  const yt = [0, yMax[i] / 2, yMax[i]];

  g.append("g").selectAll("path").data(pts).join("path")
    .attr("d", starPath(3.7))
    .attr("transform", d => `translate(${x(d[0])},${y(d[1])})`)
    .attr("stroke", "#000").attr("stroke-width", 1).attr("fill", "none");

  const f = fits[i];
  g.append("line").attr("x1", x(f[0])).attr("y1", y(f[1])).attr("x2", x(f[2])).attr("y2", y(f[3]))
    .attr("stroke", "#ff0000").attr("stroke-width", 1);

  const ax = (sel) => { sel.select(".domain").remove(); sel.selectAll("line").attr("stroke", axisColor); sel.selectAll("text").attr("fill", labelColor).attr("font-family", FONT).attr("font-size", 10); };
  g.append("g").attr("transform", `translate(0,${ph})`)
    .call(d3.axisBottom(x).tickValues(xt).tickSize(-2).tickPadding(5).tickFormat(fmt)).call(ax);
  g.append("g").call(d3.axisLeft(y).tickValues(yt).tickSize(-2).tickPadding(3).tickFormat(fmt)).call(ax);
  const mirrorTop = g.append("g").call(d3.axisTop(x).tickValues(xt).tickSize(-2)).call(ax);
  mirrorTop.selectAll("text").remove();
  const mirrorRight = g.append("g").attr("transform", `translate(${pw},0)`).call(d3.axisRight(y).tickValues(yt).tickSize(-2)).call(ax);
  mirrorRight.selectAll("text").remove();

  g.append("rect").attr("x", 0.5).attr("y", 0.5).attr("width", pw - 1).attr("height", ph - 1)
    .attr("fill", "none").attr("stroke", axisColor).attr("stroke-width", 0.8);

  g.append("text").attr("x", pw / 2).attr("y", -5).attr("text-anchor", "middle")
    .attr("font-family", FONT).attr("font-weight", "bold").attr("font-size", 10.5).attr("fill", "#000").text(panelTitles[i]);
});
</script>
</body></html>
